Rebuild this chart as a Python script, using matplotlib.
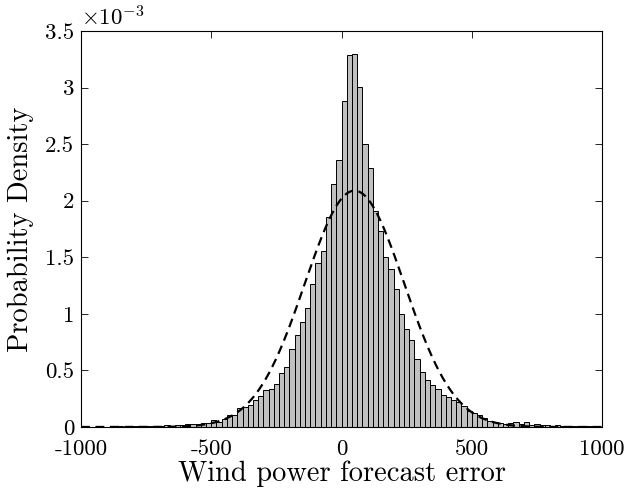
import numpy as np
import matplotlib
matplotlib.use('Agg')
import matplotlib.pyplot as plt
from matplotlib.ticker import FuncFormatter

plt.rcParams['font.family'] = 'cmr10'
plt.rcParams['mathtext.fontset'] = 'cm'
plt.rcParams['axes.unicode_minus'] = False
plt.rcParams['axes.formatter.use_mathtext'] = False

# histogram, bins of width 20 from -1000 to 1000, density in units of 1e-3
bin_width = 20
bin_left = np.arange(-1000, 1000, bin_width)
density = np.array([
    0.003, 0.002, 0.003, 0.005, 0.004, 0.003, 0.005, 0.006, 0.004, 0.008,
    0.012, 0.006, 0.009, 0.008, 0.012, 0.010, 0.014, 0.012, 0.018, 0.016,
    0.022, 0.030, 0.028, 0.032, 0.038, 0.059, 0.047, 0.074, 0.103, 0.109,
    0.171, 0.177, 0.197, 0.236, 0.277, 0.327, 0.336, 0.380, 0.474, 0.527,
    0.687, 0.810, 0.928, 1.052, 1.261, 1.447, 1.556, 1.853, 2.148, 2.357,
    2.882, 3.285, 3.300, 3.008, 2.502, 2.289, 1.912, 1.730, 1.500, 1.397,
    1.223, 0.996, 0.869, 0.766, 0.601, 0.489, 0.418, 0.374, 0.339, 0.286,
    0.265, 0.236, 0.218, 0.186, 0.144, 0.127, 0.106, 0.077, 0.056, 0.044,
    0.038, 0.029, 0.032, 0.041, 0.029, 0.047, 0.015, 0.024, 0.021, 0.018,
    0.009, 0.015, 0.008, 0.009, 0.007, 0.006, 0.008, 0.005, 0.006, 0.004,
]) * 1e-3

# fitted normal distribution
mu = 50.0
sigma = 191.0

fig = plt.figure(figsize=(6.26, 4.98), dpi=100)
ax = fig.add_axes([0.1294, 0.1426, 0.8323, 0.7952])

ax.bar(bin_left, density, width=bin_width, align='edge',
       color='#c0c0c0', edgecolor='black', linewidth=0.7)

xs = np.linspace(-1000, 1000, 801)
pdf = np.exp(-0.5 * ((xs - mu) / sigma) ** 2) / (sigma * np.sqrt(2 * np.pi))
ax.plot(xs, pdf, color='black', linewidth=1.6, linestyle=(0, (4, 2.5)))

ax.set_xlim(-1000, 1000)
ax.set_ylim(0, 3.5e-3)
ax.set_xticks([-1000, -500, 0, 500, 1000])
ax.xaxis.set_major_formatter(FuncFormatter(lambda v, p: '%d' % v))
ax.set_yticks(np.arange(0, 3.51e-3, 0.5e-3))
ax.yaxis.set_major_formatter(FuncFormatter(lambda v, p: '%g' % round(v * 1e3, 2)))
ax.tick_params(direction='in', length=5, width=0.6, top=True, right=True,
               labelsize=16.5)
ax.tick_params(axis='x', pad=9)
ax.tick_params(axis='y', pad=5)
for s in ax.spines.values():
    s.set_linewidth(0.8)

ax.text(0.0, 1.003, r'$\times10^{-3}$', transform=ax.transAxes,
        fontsize=16.5, ha='left', va='bottom')
ax.set_xlabel('Wind power forecast error', fontsize=20.5, labelpad=1)
ax.set_ylabel('Probability Density', fontsize=20.5, labelpad=8)

plt.savefig('out.png', dpi=100)
